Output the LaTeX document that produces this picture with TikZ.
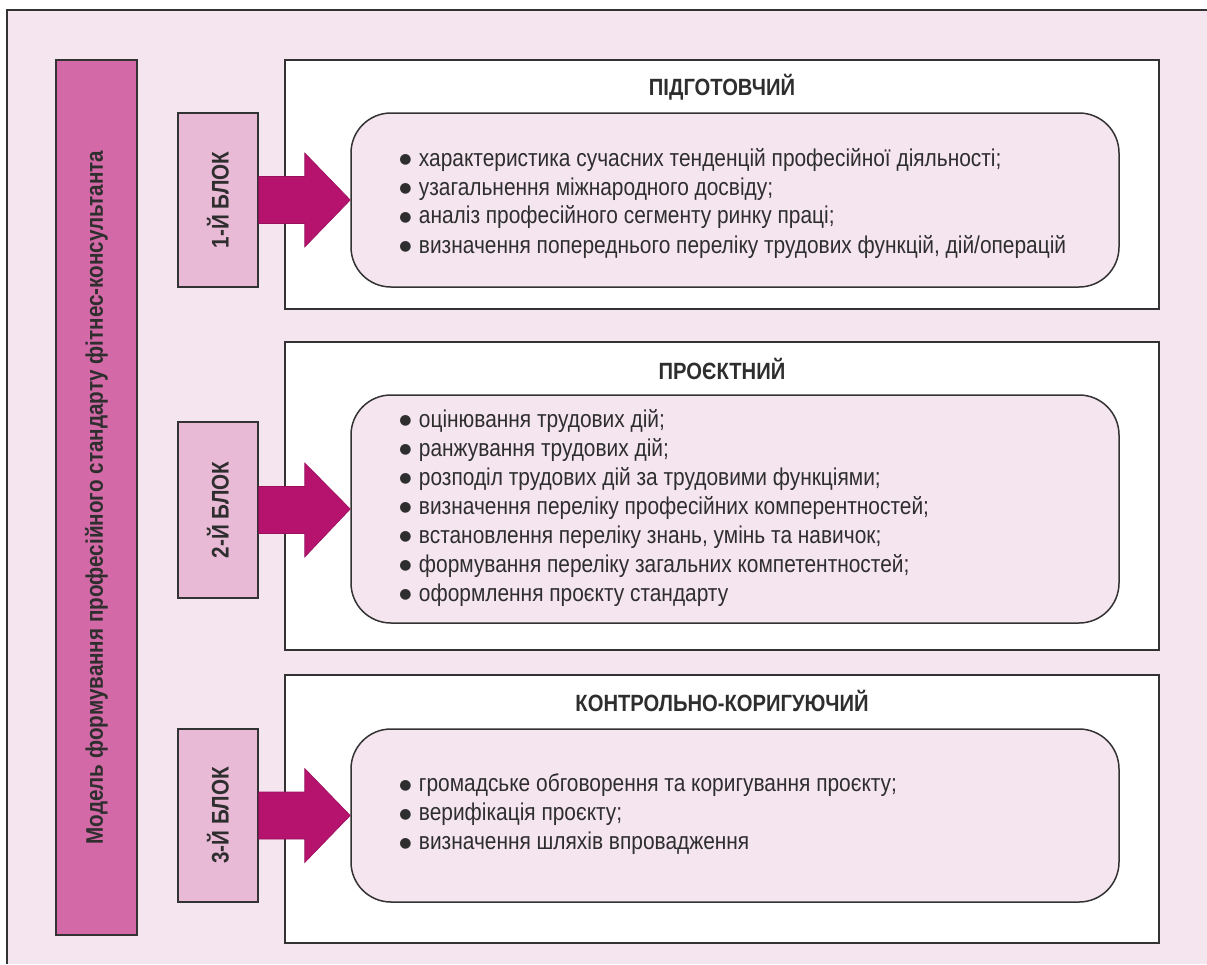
\documentclass[tikz,border=0pt]{standalone}
\usepackage{fontspec}
\usepackage{graphicx}
\setmainfont{Liberation Sans}[FakeStretch=0.86]
\newfontfamily\dotfont{DejaVu Sans}
\usetikzlibrary{calc}

\definecolor{bgpink}{HTML}{F5E5EF}
\definecolor{modelpink}{HTML}{D36AA7}
\definecolor{blockpink}{HTML}{E8BAD6}
\definecolor{arrowmag}{HTML}{B5136D}
\definecolor{linegray}{HTML}{333333}
\definecolor{textgray}{HTML}{2E2E2E}

% bullet of the item lists
\newcommand{\itmdot}{\raisebox{2.8pt}{\dotfont\fontsize{14}{14}\selectfont ●}\hspace{0.3em}}

\tikzset{
  framebox/.style={draw=linegray, line width=1.5pt},
  modelbox/.style={framebox, fill=modelpink, minimum width=81pt, minimum height=875pt,
    inner sep=0pt, font=\bfseries\fontsize{24}{24}\selectfont, text=textgray},
  blockbox/.style={framebox, fill=blockpink, minimum width=80pt,
    inner sep=0pt, font=\bfseries\fontsize{24}{24}\selectfont, text=textgray},
  stagebox/.style={framebox, fill=white, minimum width=874pt},
  stagetitle/.style={font=\bfseries\fontsize{23.5}{24}\selectfont, text=textgray},
  itembox/.style={framebox, fill=bgpink, rounded corners=40pt, minimum width=768pt},
  itemlist/.style={anchor=west, align=left, inner sep=0pt,
    font=\fontsize{24.3}{29}\selectfont, text=textgray},
  blockarrow/.style={fill=arrowmag, draw=arrowmag!85!black, line width=0.6pt}
}

\begin{document}
\begin{tikzpicture}[x=1pt,y=-1pt]
  \useasboundingbox (0,0) rectangle (1207,964);

  % Background and frame
  \fill[white] (0,0) rectangle (1207,964);
  \fill[bgpink] (7,10) rectangle (1207,964);
  \draw[linegray, line width=2pt] (7,964) -- (7,10) -- (1207,10);

  % Model bar
  \node[modelbox] (model) at (96.5,497.5)
    {\rotatebox{90}{Модель формування професійного стандарту фітнес-консультанта}};

  % Stage 1
  \node[stagebox, minimum height=249pt] (stage1) at (722,184.5) {};
  \node[stagetitle] (title1) at ($(stage1.north)+(0,28)$) {ПІДГОТОВЧИЙ};
  \node[itembox, minimum height=174pt] (items1) at (735,200) {};
  \node[itemlist] (list1) at ($(items1.west)+(49,3)$) {%
    \itmdot характеристика сучасних тенденцій професійної діяльності;\\
    \itmdot узагальнення міжнародного досвіду;\\
    \itmdot аналіз професійного сегменту ринку праці;\\
    \itmdot визначення попереднього переліку трудових функцій, дій/операцій};
  \node[blockbox, minimum height=174pt] (blk1) at (218,200) {\rotatebox{90}{1-Й БЛОК}};

  % Stage 2
  \node[stagebox, minimum height=308pt] (stage2) at (722,496) {};
  \node[stagetitle] (title2) at ($(stage2.north)+(0,28)$) {ПРОЄКТНИЙ};
  \node[itembox, minimum height=228pt] (items2) at (735,509) {};
  \node[itemlist] (list2) at ($(items2.west)+(49,-1)$) {%
    \itmdot оцінювання трудових дій;\\
    \itmdot ранжування трудових дій;\\
    \itmdot розподіл трудових дій за трудовими функціями;\\
    \itmdot визначення переліку професійних комперентностей;\\
    \itmdot встановлення переліку знань, умінь та навичок;\\
    \itmdot формування переліку загальних компетентностей;\\
    \itmdot оформлення проєкту стандарту};
  \node[blockbox, minimum height=176pt] (blk2) at (218,510) {\rotatebox{90}{2-Й БЛОК}};

  % Stage 3
  \node[stagebox, minimum height=268pt] (stage3) at (722,809) {};
  \node[stagetitle] (title3) at ($(stage3.north)+(0,27)$) {КОНТРОЛЬНО-КОРИГУЮЧИЙ};
  \node[itembox, minimum height=173pt] (items3) at (735,815.5) {};
  \node[itemlist] (list3) at ($(items3.west)+(49,-1)$) {%
    \itmdot громадське обговорення та коригування проєкту;\\
    \itmdot верифікація проєкту;\\
    \itmdot визначення шляхів впровадження};
  \node[blockbox, minimum height=173pt] (blk3) at (218,815.5) {\rotatebox{90}{3-Й БЛОК}};

  % Block arrows
  \foreach \b/\i in {blk1/items1, blk2/items2, blk3/items3}
    \draw[blockarrow] ($(\b.east)+(0,-23.5)$) -- ++(46,0) -- ++(0,-23.5)
      -- (\i.west) -- ($(\b.east)+(46,47)$) -- ++(0,-23.5)
      -- ($(\b.east)+(0,23.5)$) -- cycle;
\end{tikzpicture}
\end{document}
